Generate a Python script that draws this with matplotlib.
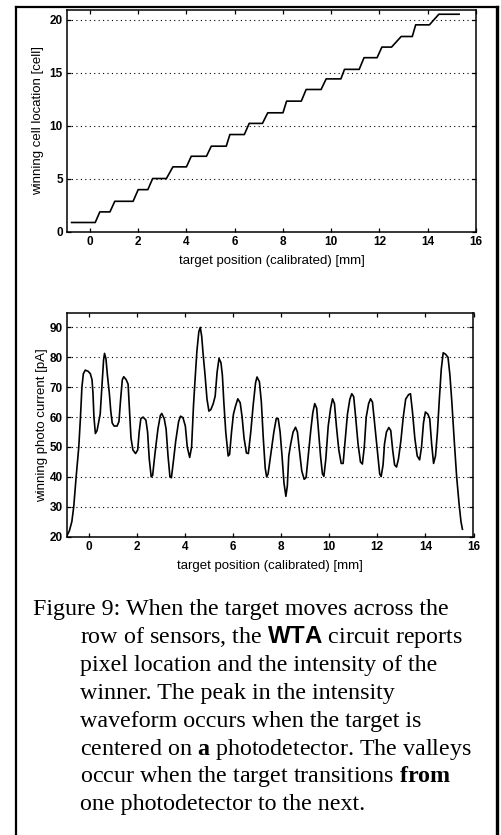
import matplotlib
matplotlib.use("Agg")
import matplotlib.pyplot as plt
from matplotlib.lines import Line2D

# staircase (winning cell) - corner points
cell_pos = [-0.76, 0.22, 0.41, 0.83, 1.03, 1.79, 2.0, 2.4, 2.6, 3.17, 3.44, 4.0,
            4.2, 4.83, 5.03, 5.65, 5.8, 6.4, 6.6, 7.15, 7.37, 8.0, 8.15, 8.76,
            8.96, 9.58, 9.79, 10.4, 10.55, 11.16, 11.36, 11.9, 12.1, 12.5,
            12.9, 13.36, 13.5, 14.07, 14.46, 15.3]
cell_loc = [0.85, 0.85, 1.85, 1.85, 2.85, 2.85, 3.95, 3.95, 5.0, 5.0, 6.1, 6.1,
            7.1, 7.1, 8.05, 8.05, 9.15, 9.15, 10.2, 10.2, 11.2, 11.2, 12.3, 12.3,
            13.4, 13.4, 14.4, 14.4, 15.3, 15.3, 16.4, 16.4, 17.4, 17.4,
            18.4, 18.4, 19.5, 19.5, 20.5, 20.5]

# winning photo current [pA]
cur_pos = [-0.92, -0.8, -0.7, -0.62, -0.52, -0.41, -0.34, -0.28, -0.22, -0.14, -0.02, 0.07,
           0.14, 0.18, 0.22, 0.28, 0.35, 0.42, 0.48, 0.55, 0.62, 0.66, 0.72, 0.78,
           0.86, 0.92, 0.98, 1.06, 1.18, 1.26, 1.33, 1.4, 1.46, 1.56, 1.64, 1.7,
           1.76, 1.84, 1.95, 2.04, 2.1, 2.17, 2.26, 2.38, 2.45, 2.52, 2.6, 2.66,
           2.76, 2.88, 2.98, 3.04, 3.14, 3.22, 3.3, 3.38, 3.44, 3.52, 3.62, 3.74,
           3.82, 3.92, 4.02, 4.1, 4.2, 4.28, 4.36, 4.42, 4.5, 4.58, 4.64, 4.7,
           4.76, 4.84, 4.92, 5.0, 5.08, 5.18, 5.26, 5.34, 5.42, 5.5, 5.56, 5.62,
           5.7, 5.8, 5.86, 5.94, 6.02, 6.1, 6.2, 6.3, 6.38, 6.46, 6.56, 6.64,
           6.74, 6.84, 6.94, 7.0, 7.1, 7.18, 7.26, 7.34, 7.4, 7.46, 7.58, 7.7,
           7.8, 7.88, 7.96, 8.04, 8.12, 8.2, 8.26, 8.32, 8.4, 8.5, 8.6, 8.68,
           8.76, 8.86, 8.96, 9.04, 9.14, 9.24, 9.32, 9.4, 9.48, 9.56, 9.64, 9.72,
           9.78, 9.86, 9.96, 10.06, 10.14, 10.22, 10.3, 10.4, 10.5, 10.58, 10.66, 10.76,
           10.86, 10.94, 11.02, 11.1, 11.2, 11.3, 11.38, 11.46, 11.54, 11.64, 11.72, 11.8,
           11.9, 12.0, 12.1, 12.16, 12.24, 12.3, 12.38, 12.48, 12.56, 12.64, 12.72, 12.8,
           12.88, 12.98, 13.08, 13.18, 13.3, 13.38, 13.46, 13.56, 13.66, 13.76, 13.84, 13.92,
           14.0, 14.1, 14.18, 14.26, 14.34, 14.42, 14.5, 14.58, 14.66, 14.74, 14.84, 14.94,
           15.02, 15.1, 15.2, 15.3, 15.4, 15.48, 15.54]
cur_pa = [20, 22, 25, 30, 40, 50, 60, 70, 74.5, 75.7, 75.3, 74.5,
          72.5, 68, 60, 54.5, 55.5, 58.5, 61, 70, 79, 81.3, 79.5, 74,
          68, 62, 58, 57, 57, 58.5, 66, 72.5, 73.5, 72.5, 71, 62,
          53, 49, 47.8, 49, 55, 59.5, 60, 59, 55, 46, 40, 40.5,
          48, 56, 60.5, 61.2, 59.5, 56, 47, 40, 39.7, 45, 52, 58.5,
          60.3, 59.8, 57, 50, 46.5, 50, 64, 72, 82, 88.5, 90, 87,
          81, 74, 66, 62, 62.5, 64.5, 67, 75, 79.6, 78.2, 74, 65,
          55, 47, 47.5, 55, 61, 63.5, 66.1, 64.8, 60, 53, 48, 47.8,
          55, 64, 71.5, 73.4, 71.8, 65, 53, 43, 40, 41, 48, 55,
          59.5, 59.5, 55, 47, 38, 33.5, 37, 47, 51, 55, 56.6, 55,
          49, 42, 39.2, 39.8, 48, 56, 61.5, 64.5, 63, 55, 47, 41,
          40.2, 46, 57, 63, 66.1, 64.5, 57, 49, 44.5, 44.5, 52, 61,
          66, 67.8, 66.8, 60, 51, 45, 44.3, 50, 60, 64.5, 66.1, 65,
          57, 49, 41, 40.1, 44, 51, 55, 56.5, 55.5, 49, 44, 43.3,
          46, 52, 60, 66, 67.5, 67.8, 62, 53, 47, 45.7, 50, 58,
          61.7, 61, 59.5, 51, 44.5, 47, 55, 66, 76, 81.5, 81, 80,
          74, 65, 52, 40, 31, 25, 22.5]

x_ticks = [0, 2, 4, 6, 8, 10, 12, 14, 16]
cell_ticks = [0, 5, 10, 15, 20]
cur_ticks = [20, 30, 40, 50, 60, 70, 80, 90]

caption = [
    "Figure 9: When the target moves across the",
    r"row of sensors, the $\mathsf{WTA}$ circuit reports",
    "pixel location and the intensity of the",
    "winner. The peak in the intensity",
    "waveform occurs when the target is",
    r"centered on $\mathbf{a}$ photodetector. The valleys",
    r"occur when the target transitions $\mathbf{from}$",
    "one photodetector to the next.",
]

plt.rcParams['font.family'] = ['Liberation Sans', 'DejaVu Sans']
plt.rcParams['mathtext.fontset'] = 'custom'
plt.rcParams['mathtext.rm'] = 'Liberation Serif'
plt.rcParams['mathtext.bf'] = 'Liberation Serif:bold'
plt.rcParams['mathtext.sf'] = 'Liberation Sans:bold'

W, H = 502, 835
fig = plt.figure(figsize=(W / 100, H / 100), dpi=100)


def frac_box(left, top, right, bottom):
    return [left / W, 1 - bottom / H, (right - left) / W, (bottom - top) / H]


def style_axes(ax, yticks):
    ax.set_xticks(x_ticks)
    ax.set_yticks(yticks)
    ax.tick_params(direction='in', length=3, width=0.9, top=True, right=True,
                   labelsize=8.5, pad=3)
    for lab in ax.get_xticklabels() + ax.get_yticklabels():
        lab.set_fontweight('bold')
    for s in ax.spines.values():
        s.set_linewidth(1.1)
    ax.yaxis.grid(True, linestyle=(0, (1, 3)), color='black', linewidth=0.8)
    ax.xaxis.grid(False)
    ax.set_xlabel("target position (calibrated) [mm]", fontsize=9.5, labelpad=5)


ax1 = fig.add_axes(frac_box(67, 10, 476, 231.5))
ax1.plot(cell_pos, cell_loc, color='black', linewidth=1.2)
ax1.set_xlim(-0.95, 16)
ax1.set_ylim(0, 20.9)
style_axes(ax1, cell_ticks)
ax1.set_ylabel("winning cell location [cell]", fontsize=9.5, labelpad=4)

ax2 = fig.add_axes(frac_box(67, 312.7, 473.5, 536.7))
ax2.plot(cur_pos, cur_pa, color='black', linewidth=1.2)
ax2.set_xlim(-0.9, 15.9)
ax2.set_ylim(20, 94.9)
style_axes(ax2, cur_ticks)
ax2.set_ylabel("winning photo current [pA]", fontsize=9.5, labelpad=1)

# outer frame of the scanned figure
fig.add_artist(Line2D([16 / W, 16 / W], [0, 1 - 7 / H], color='black', linewidth=1.6))
fig.add_artist(Line2D([16 / W, 498 / W], [1 - 7 / H, 1 - 7 / H], color='black', linewidth=1.6))
fig.add_artist(Line2D([497 / W, 497 / W], [0, 1 - 7 / H], color='black', linewidth=2.4))

for i, line in enumerate(caption):
    x0 = 33 if i == 0 else 80
    fig.text(x0 / W, 1 - (615 + 27.9 * i) / H, line, fontsize=17.3,
             family='Liberation Serif', va='baseline', ha='left')

fig.savefig("out.png", dpi=100)
